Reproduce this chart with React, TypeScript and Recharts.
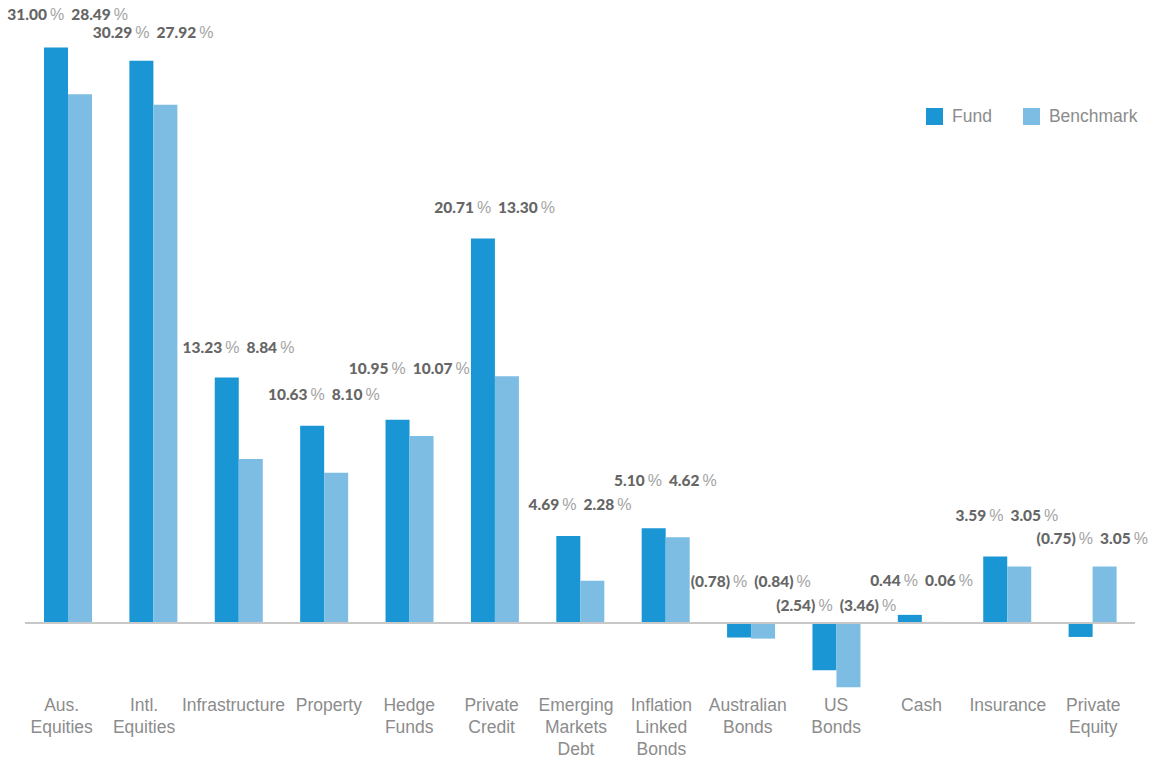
import React, { useLayoutEffect } from "react";
import {
  ComposedChart,
  Bar,
  Line,
  XAxis,
  YAxis,
  ReferenceLine,
  LabelList,
  Legend,
} from "recharts";

const categories = [
  "Aus. Equities",
  "Intl. Equities",
  "Infrastructure",
  "Property",
  "Hedge Funds",
  "Private Credit",
  "Emerging Markets Debt",
  "Inflation Linked Bonds",
  "Australian Bonds",
  "US Bonds",
  "Cash",
  "Insurance",
  "Private Equity",
];
const fundValues = [31.0, 30.29, 13.23, 10.63, 10.95, 20.71, 4.69, 5.1, -0.78, -2.54, 0.44, 3.59, -0.75];
const benchmarkValues = [28.49, 27.92, 8.84, 8.1, 10.07, 13.3, 2.28, 4.62, -0.84, -3.46, 0.06, 3.05, 3.05];
// label lift above the group top (px)
const labelLift = [28, 23, 24, 26, 46, 26, 26, 42, 36, 12, 29, 35, 22];
// small horizontal nudges of the category labels (px)
const tickNudge = [-6, -9, -5, 5, 0, -3, -4, -4, -3, 0, 0, 1, 1];

const FUND = "#1a96d4";
const BENCH = "#7ebde3";
const AXIS_TXT = "#8c8c8c";

const data = categories.map((c, i) => ({
  category: c,
  fund: fundValues[i],
  benchmark: benchmarkValues[i],
  top: Math.max(fundValues[i], benchmarkValues[i], 0),
}));

const fmt = (v: number) => (v < 0 ? `(${Math.abs(v).toFixed(2)})` : v.toFixed(2));

const CategoryTick = (props: any) => {
  const { x, y, payload, index } = props;
  const words = String(payload.value).split(" ");
  const cx = x + (tickNudge[index] || 0);
  return (
    <text
      x={cx}
      y={y}
      textAnchor="middle"
      fill={AXIS_TXT}
      style={{ fontFamily: "'Liberation Sans', Arial, sans-serif", fontSize: 17.5 }}
    >
      {words.map((w, i) => (
        <tspan key={i} x={cx} dy={i === 0 ? 23 : 22}>
          {w}
        </tspan>
      ))}
    </text>
  );
};

const GroupLabel = (props: any) => {
  const { x, y, index } = props;
  const i = index as number;
  const numStyle = { fontFamily: "Lato, sans-serif", fontWeight: 900, fontSize: 15.5, fill: "#666666" } as any;
  const pctStyle = { fontFamily: "'Liberation Sans', sans-serif", fontWeight: 400, fontSize: 16, fill: "#a3a3a3" } as any;
  return (
    <text x={x} y={y - labelLift[i]} textAnchor="middle">
      <tspan style={numStyle}>{fmt(fundValues[i])}</tspan>
      <tspan style={pctStyle} dx={3}>%</tspan>
      <tspan style={numStyle} dx={7}>{fmt(benchmarkValues[i])}</tspan>
      <tspan style={pctStyle} dx={3}>%</tspan>
    </text>
  );
};

const LegendContent = () => {
  const item = (color: string, label: string, ml: number) => (
    <div style={{ display: "flex", alignItems: "center", marginLeft: ml }}>
      <div style={{ width: 17, height: 17, background: color }} />
      <span
        style={{
          marginLeft: 9,
          fontFamily: "'Liberation Sans', Arial, sans-serif",
          fontSize: 17.5,
          color: AXIS_TXT,
          lineHeight: "17px",
        }}
      >
        {label}
      </span>
    </div>
  );
  return (
    <div style={{ display: "flex", alignItems: "center" }}>
      {item(FUND, "Fund", 0)}
      {item(BENCH, "Benchmark", 31)}
    </div>
  );
};

export default function App() {
  useLayoutEffect(() => {
    document.body.style.margin = "0";
  }, []);
  return (
    <div style={{ width: 1154, height: 758, position: "relative", overflow: "hidden" }}>
      <ComposedChart
        width={1154}
        height={758}
        data={data}
        margin={{ top: 29, right: 19, left: 25, bottom: 8 }}
        barGap={0}
      >
        <XAxis
          dataKey="category"
          axisLine={false}
          tickLine={false}
          tickSize={0}
          tickMargin={0}
          height={62}
          interval={0}
          tick={<CategoryTick />}
        />
        <YAxis hide domain={[-3.5, 32]} type="number" allowDataOverflow />
        <Legend
          layout="horizontal"
          verticalAlign="middle"
          align="center"
          content={<LegendContent />}
          wrapperStyle={{ position: "absolute", top: 108, left: 926, width: 228, height: 17 }}
        />
        <ReferenceLine y={0} stroke="#c8c8c8" strokeWidth={2} ifOverflow="extendDomain" />
        <Bar dataKey="fund" name="Fund" fill={FUND} barSize={24} isAnimationActive={false} />
        <Bar dataKey="benchmark" name="Benchmark" fill={BENCH} barSize={24} isAnimationActive={false} />
        <Line
          dataKey="top"
          stroke="none"
          dot={false}
          activeDot={false}
          legendType="none"
          isAnimationActive={false}
        >
          <LabelList dataKey="top" content={<GroupLabel />} />
        </Line>
      </ComposedChart>
    </div>
  );
}
